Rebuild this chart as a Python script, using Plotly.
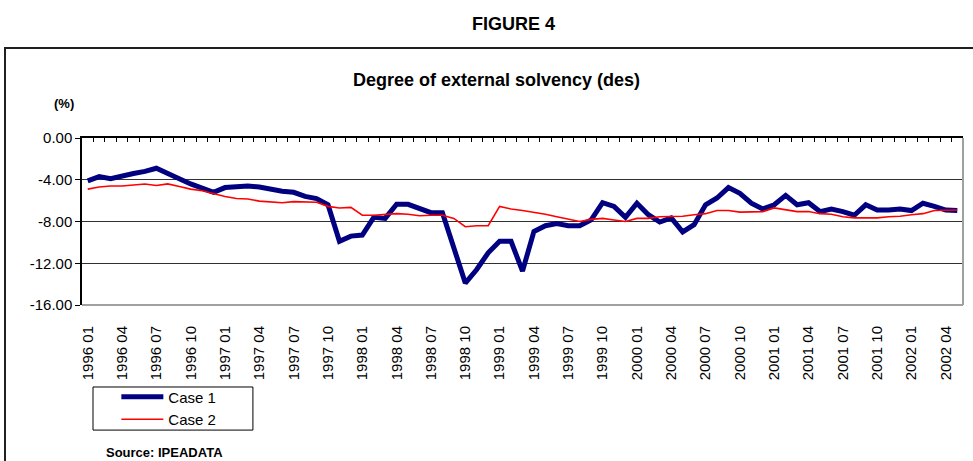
import plotly.graph_objects as go

# months 1996 01 .. 2002 05
months = [f"{1996 + k // 12} {k % 12 + 1:02d}" for k in range(77)]

case1 = [
    -4.1, -3.7, -3.9, -3.6, -3.4, -3.2, -2.9, -3.4, -3.95, -4.4,
    -4.8, -5.2, -4.75, -4.7, -4.6, -4.7, -4.95, -5.1, -5.2, -5.6,
    -5.8, -6.4, -9.9, -9.4, -9.3, -7.6, -7.7, -6.35, -6.35, -6.7,
    -7.15, -7.15, -10.6, -13.9, -12.6, -11.0, -9.9, -9.9, -12.75, -8.95,
    -8.4, -8.2, -8.4, -8.4, -7.85, -6.2, -6.55, -7.6, -6.25, -7.35,
    -8.05, -7.65, -9.0, -8.3, -6.4, -5.75, -4.75, -5.3, -6.25, -6.8,
    -6.4, -5.5, -6.4, -6.2, -7.05, -6.8, -7.05, -7.4, -6.4, -6.9,
    -6.9, -6.8, -6.95, -6.25, -6.55, -6.9, -6.95,
]
case2 = [
    -4.9, -4.7, -4.6, -4.6, -4.5, -4.4, -4.55, -4.4, -4.65, -4.9,
    -5.05, -5.35, -5.6, -5.8, -5.85, -6.05, -6.15, -6.2, -6.1, -6.15,
    -6.15, -6.55, -6.7, -6.65, -7.4, -7.4, -7.35, -7.25, -7.3, -7.45,
    -7.4, -7.4, -7.7, -8.5, -8.4, -8.4, -6.55, -6.8, -6.95, -7.1,
    -7.3, -7.55, -7.75, -8.0, -7.8, -7.7, -7.85, -8.0, -7.7, -7.7,
    -7.55, -7.55, -7.5, -7.35, -7.25, -6.95, -6.95, -7.1, -7.1, -7.05,
    -6.7, -6.9, -7.05, -7.05, -7.25, -7.3, -7.55, -7.65, -7.65, -7.65,
    -7.55, -7.5, -7.35, -7.25, -6.95, -6.95, -6.9,
]

y_ticks = [0, -4, -8, -12, -16]
y_tick_text = ["0.00", "-4.00", "-8.00", "-12.00", "-16.00"]

FONT = "Arial, Liberation Sans, sans-serif"
idx = list(range(len(months)))

fig = go.Figure()
fig.add_trace(go.Scatter(x=idx, y=case1, mode="lines", name="Case 1",
                         line=dict(color="#000080", width=5)))
fig.add_trace(go.Scatter(x=idx, y=case2, mode="lines", name="Case 2",
                         line=dict(color="#ff0000", width=1.6)))
# dummy trace so the top category axis (tick marks) gets drawn
fig.add_trace(go.Scatter(x=[0], y=[None], xaxis="x2", showlegend=False,
                         hoverinfo="skip"))

fig.update_layout(
    width=973, height=461,
    margin=dict(l=82, r=10, t=138, b=156),
    paper_bgcolor="white", plot_bgcolor="white",
    font=dict(family=FONT, color="black", size=15),
    showlegend=True,
    legend=dict(x=0.039, y=-0.452, xanchor="left", yanchor="top",
                bgcolor="rgba(0,0,0,0)", borderwidth=0, itemwidth=42,
                font=dict(size=15), tracegroupgap=0),
    xaxis=dict(range=[-0.5, len(months) - 0.5],
               tickvals=idx[::3], ticktext=months[::3], tickangle=-90,
               ticks="outside", ticklen=14, tickcolor="rgba(0,0,0,0)",
               showgrid=False, zeroline=False, showline=False,
               tickfont=dict(size=15)),
    xaxis2=dict(overlaying="x", side="top", range=[-0.5, len(months) - 0.5],
                tickmode="linear", tick0=0.5, dtick=1,
                ticks="inside", ticklen=4, tickcolor="black",
                showticklabels=False, showgrid=False, zeroline=False,
                showline=True, linecolor="black", linewidth=1.5),
    yaxis=dict(range=[-16, 0], tickvals=y_ticks, ticktext=y_tick_text,
               ticks="outside", ticklen=5, tickcolor="black",
               showline=True, linecolor="black", linewidth=1.5,
               showgrid=True, gridcolor="#303030", gridwidth=1,
               zeroline=False, tickfont=dict(size=15)),
    shapes=[
        # plot area border (grey), bottom and right sides
        dict(type="line", xref="paper", yref="paper", x0=0, x1=1, y0=0, y1=0,
             line=dict(color="#a0a0a0", width=2), layer="above"),
        dict(type="line", xref="paper", yref="paper", x0=1, x1=1, y0=0, y1=1,
             line=dict(color="#a0a0a0", width=2), layer="above"),
        # outer chart frame
        dict(type="rect", xref="paper", yref="paper",
             x0=-0.0874, x1=1.02, y0=-0.96, y1=1.539,
             line=dict(color="#202020", width=2)),
        # legend box
        dict(type="rect", xref="paper", yref="paper",
             x0=0.0125, x1=0.194, y0=-0.749, y1=-0.491,
             line=dict(color="black", width=1)),
    ],
    annotations=[
        dict(text="<b>FIGURE 4</b>", xref="paper", yref="paper",
             x=0.4903, y=1.683, yanchor="middle", showarrow=False,
             font=dict(size=18)),
        dict(text="<b>Degree of external solvency (des)</b>", xref="paper",
             yref="paper", x=0.471, y=1.347, yanchor="middle",
             showarrow=False, font=dict(size=18)),
        dict(text="<b>(%)</b>", xref="paper", yref="paper", x=-0.034,
             y=1.204, xanchor="left", yanchor="middle", showarrow=False,
             font=dict(size=13)),
        dict(text="<b>Source: IPEADATA</b>", xref="paper", yref="paper",
             x=0.025, y=-0.886, xanchor="left", yanchor="middle",
             showarrow=False, font=dict(size=13)),
    ],
)

# page body margin off so the figure sits at the window's top-left corner
fig.write_html("out.html", config={"displayModeBar": False},
               post_script="document.body.style.margin='0';")
